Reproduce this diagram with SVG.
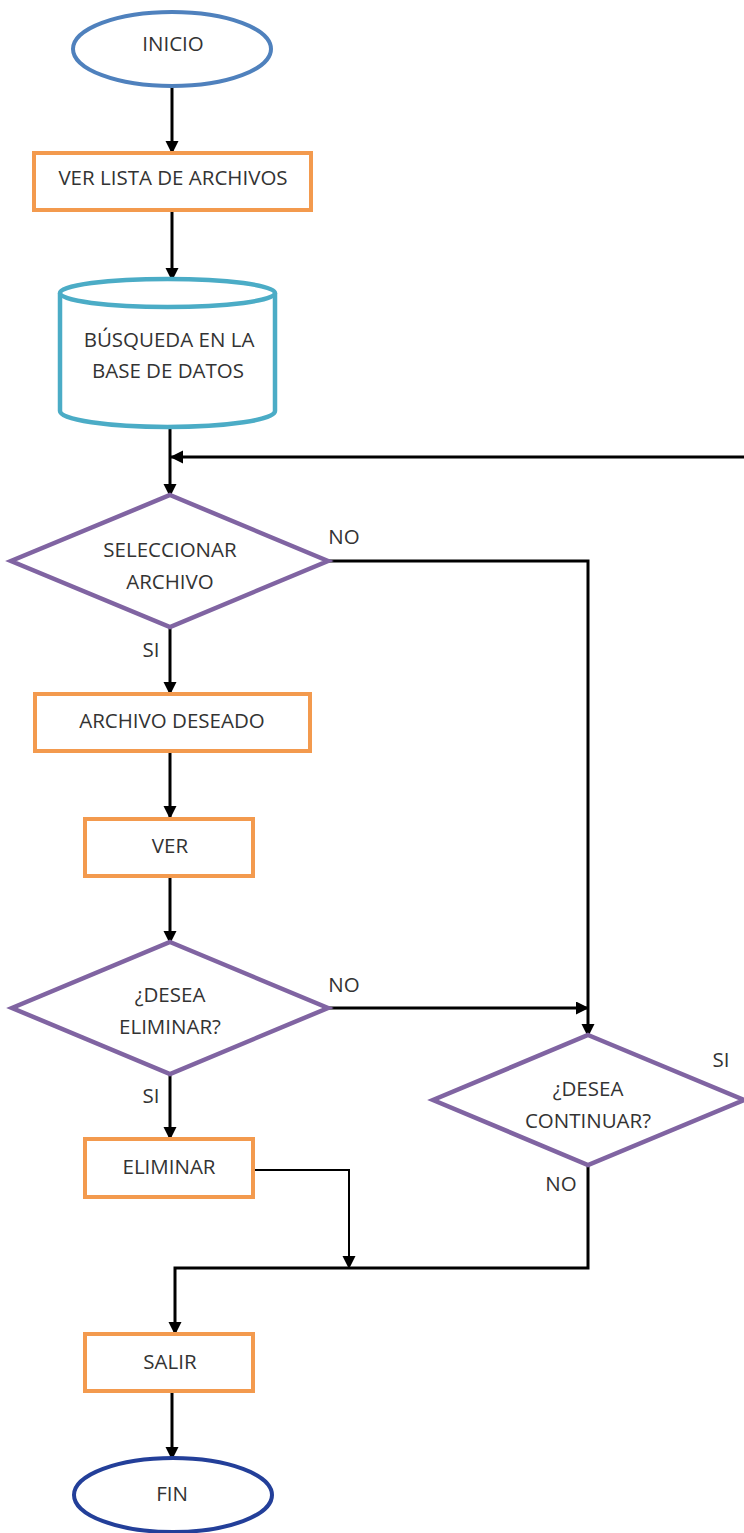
<svg xmlns="http://www.w3.org/2000/svg" width="744" height="1533" viewBox="0 0 744 1533">
  <style>
    text { font-family: "Open Sans", "Liberation Sans", sans-serif; font-size: 20.5px; fill: #333333; text-anchor: middle; }
    .proc { fill: #ffffff; stroke: #f39a4e; stroke-width: 4; }
    .dec { fill: #ffffff; stroke: #8064a2; stroke-width: 4.5; stroke-linejoin: miter; }
    .db { fill: #ffffff; stroke: #4bacc6; stroke-width: 4.5; }
    .term1 { fill: #ffffff; stroke: #4f81bd; stroke-width: 4; }
    .term2 { fill: #ffffff; stroke: #233f99; stroke-width: 4; }
    .conn { fill: none; stroke: #000000; stroke-width: 3; }
    .thin { stroke-width: 2; }
  </style>
  <defs>
    <marker id="arrow" markerUnits="userSpaceOnUse" markerWidth="14" markerHeight="14" refX="12" refY="6.5" orient="auto">
      <path d="M0,0 L13,6.5 L0,13 Z" fill="#000000"/>
    </marker>
  </defs>
  <rect width="744" height="1533" fill="#ffffff"/>

  <!-- connectors -->
  <g id="connectors">
    <path class="conn" d="M172,87 V153" marker-end="url(#arrow)"/>
    <path class="conn" d="M172,210 V280" marker-end="url(#arrow)"/>
    <path class="conn" d="M170,428 V496" marker-end="url(#arrow)"/>
    <path class="conn" d="M744,457 H171" marker-end="url(#arrow)"/>
    <path class="conn" d="M328,561 H588 V1036" marker-end="url(#arrow)"/>
    <path class="conn" d="M170,627 V694" marker-end="url(#arrow)"/>
    <path class="conn" d="M170,752 V818" marker-end="url(#arrow)"/>
    <path class="conn" d="M170,877 V943" marker-end="url(#arrow)"/>
    <path class="conn" d="M328,1008 H588" marker-end="url(#arrow)"/>
    <path class="conn" d="M170,1075 V1139" marker-end="url(#arrow)"/>
    <path class="conn thin" d="M253,1170 H349 V1268" marker-end="url(#arrow)"/>
    <path class="conn" d="M588,1165 V1268 H175 V1334" marker-end="url(#arrow)"/>
    <path class="conn" d="M172,1391 V1459" marker-end="url(#arrow)"/>
    <text x="344" y="544">NO</text>
    <text x="151" y="657">SI</text>
    <text x="344" y="992">NO</text>
    <text x="151" y="1103">SI</text>
    <text x="721" y="1067">SI</text>
    <text x="561" y="1191">NO</text>
  </g>

  <g id="inicio">
    <ellipse class="term1" cx="172" cy="49" rx="99" ry="37"/>
    <text x="173" y="51">INICIO</text>
  </g>

  <g id="ver-lista">
    <rect class="proc" x="34" y="153" width="277" height="57"/>
    <text x="173" y="185">VER LISTA DE ARCHIVOS</text>
  </g>

  <g id="busqueda">
    <path class="db" d="M60,293 A107.5,14 0 0 1 275,293 V411 A107.5,16 0 0 1 60,411 Z"/>
    <path class="db" d="M60,293 A107.5,14 0 0 0 275,293" fill="none"/>
    <text x="169" y="347">BÚSQUEDA EN LA</text>
    <text x="168" y="378">BASE DE DATOS</text>
  </g>

  <g id="seleccionar">
    <polygon class="dec" points="170,495 328,561 170,627 11,561"/>
    <text x="170" y="557">SELECCIONAR</text>
    <text x="170" y="589">ARCHIVO</text>
  </g>

  <g id="archivo-deseado">
    <rect class="proc" x="35" y="694" width="275" height="57"/>
    <text x="172" y="728">ARCHIVO DESEADO</text>
  </g>

  <g id="ver">
    <rect class="proc" x="85" y="819" width="168" height="57"/>
    <text x="170" y="853">VER</text>
  </g>

  <g id="desea-eliminar">
    <polygon class="dec" points="170,942 328,1008 170,1074 12,1008"/>
    <text x="170" y="1002">¿DESEA</text>
    <text x="170" y="1034">ELIMINAR?</text>
  </g>

  <g id="desea-continuar">
    <polygon class="dec" points="588,1035 744,1100 588,1165 433,1100"/>
    <text x="588" y="1096">¿DESEA</text>
    <text x="588" y="1128">CONTINUAR?</text>
  </g>

  <g id="eliminar">
    <rect class="proc" x="85" y="1139" width="168" height="58"/>
    <text x="169" y="1174">ELIMINAR</text>
  </g>

  <g id="salir">
    <rect class="proc" x="85" y="1334" width="168" height="57"/>
    <text x="170" y="1369">SALIR</text>
  </g>

  <g id="fin">
    <ellipse class="term2" cx="173" cy="1495" rx="99" ry="37"/>
    <text x="172" y="1501">FIN</text>
  </g>
</svg>
